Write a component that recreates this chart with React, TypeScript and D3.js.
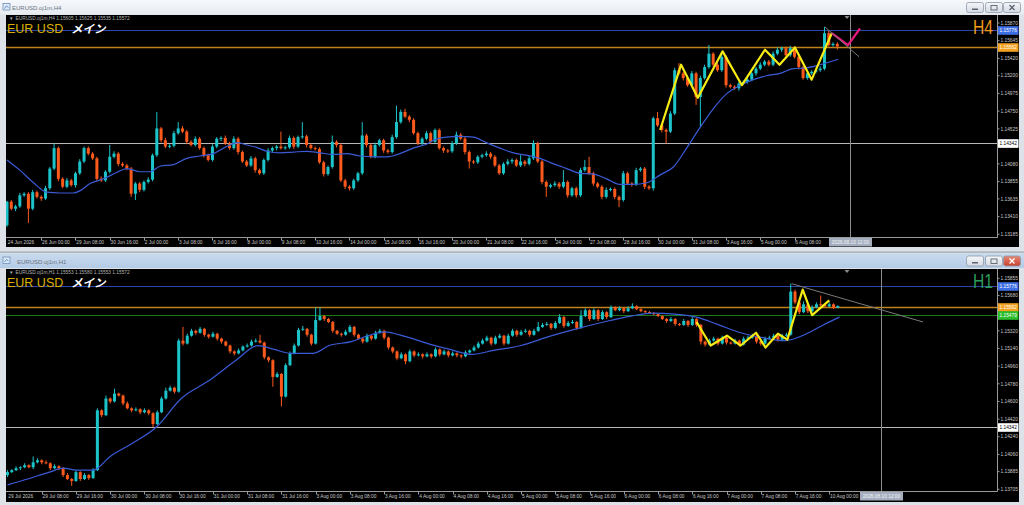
import { useRef, useEffect } from 'react';
import * as d3 from 'd3';

// ---------- H4 pane (top) ----------
const h4FirstOpen = 1.133;
const h4Close = [
  1.1360, 1.1351, 1.1354, 1.1368, 1.1370, 1.1351, 1.1372, 1.1366, 1.1364, 1.1377,
  1.1402, 1.1428, 1.1389, 1.1379, 1.1387, 1.1381, 1.1396, 1.1411, 1.1428, 1.1421,
  1.1415, 1.1389, 1.1387, 1.1398, 1.1417, 1.1421, 1.1408, 1.1406, 1.1402, 1.1370,
  1.1383, 1.1375, 1.1385, 1.1388, 1.1419, 1.1453, 1.1438, 1.1430, 1.1431, 1.1447,
  1.1453, 1.1449, 1.1436, 1.1432, 1.1440, 1.1428, 1.1419, 1.1413, 1.1430, 1.1440,
  1.1441, 1.1434, 1.1428, 1.1440, 1.1423, 1.1411, 1.1406, 1.1415, 1.1400, 1.1396,
  1.1413, 1.1425, 1.1428, 1.1430, 1.1428, 1.1429, 1.1441, 1.1430, 1.1442, 1.1443,
  1.1432, 1.1428, 1.1427, 1.1410, 1.1395, 1.1404, 1.1436, 1.1432, 1.1387, 1.1379,
  1.1377, 1.1387, 1.1396, 1.1444, 1.1432, 1.1417, 1.1432, 1.1438, 1.1425, 1.1423,
  1.1442, 1.1461, 1.1474, 1.1468, 1.1464, 1.1447, 1.1434, 1.1440, 1.1447, 1.1436,
  1.1451, 1.1428, 1.1425, 1.1424, 1.1434, 1.1445, 1.1440, 1.1423, 1.1411, 1.1410,
  1.1417, 1.1419, 1.1421, 1.1417, 1.1406, 1.1396, 1.1408, 1.1411, 1.1413, 1.1406,
  1.1411, 1.1408, 1.1415, 1.1434, 1.1411, 1.1385, 1.1379, 1.1381, 1.1383, 1.1379,
  1.1385, 1.1368, 1.1377, 1.1368, 1.1400, 1.1404, 1.1396, 1.1383, 1.1379, 1.1366,
  1.1375, 1.1376, 1.1366, 1.1362, 1.1396, 1.1383, 1.1382, 1.1400, 1.1402, 1.1379,
  1.1377, 1.1466, 1.1457, 1.1451, 1.1449, 1.1472, 1.1527, 1.1523, 1.1517, 1.1508,
  1.1523, 1.1493, 1.1517, 1.1531, 1.1548, 1.1534, 1.1527, 1.1544, 1.1508, 1.1506,
  1.1504, 1.1510, 1.1512, 1.1515, 1.1523, 1.1529, 1.1534, 1.1538, 1.1534, 1.1548,
  1.1553, 1.1555, 1.1546, 1.1555, 1.1544, 1.1531, 1.1517, 1.1523, 1.1525, 1.1527,
  1.1529, 1.1574, 1.1559, 1.15605, 1.15572,
];
// wick lengths in pips above / below the body
const h4WickUp = [
  1, 2, 2, 3, 2, 2, 3, 2, 2, 3,
  2, 6, 2, 2, 3, 2, 2, 3, 2, 2,
  2, 2, 3, 2, 15, 3, 2, 2, 2, 2,
  2, 2, 2, 3, 2, 21, 2, 3, 2, 3,
  8, 3, 2, 2, 3, 2, 2, 2, 3, 2,
  2, 3, 2, 3, 2, 2, 2, 3, 2, 2,
  2, 3, 2, 2, 19, 2, 3, 2, 2, 18,
  2, 2, 2, 2, 2, 2, 8, 2, 2, 2,
  2, 2, 2, 17, 2, 2, 3, 2, 2, 2,
  3, 21, 3, 4, 2, 2, 2, 2, 3, 2,
  2, 2, 2, 2, 3, 4, 2, 2, 2, 2,
  2, 2, 3, 2, 2, 2, 2, 3, 2, 2,
  8, 2, 3, 4, 2, 2, 2, 2, 3, 2,
  15, 2, 2, 2, 3, 9, 13, 2, 2, 2,
  3, 2, 2, 2, 3, 2, 2, 3, 2, 2,
  2, 2, 8, 2, 2, 3, 3, 9, 2, 2,
  3, 2, 3, 3, 11, 2, 2, 4, 2, 2,
  2, 2, 2, 3, 2, 2, 3, 2, 2, 3,
  3, 2, 2, 3, 2, 2, 2, 2, 2, 2,
  3, 8, 3, 2, 2,
];
const h4WickDown = [
  2, 2, 3, 2, 2, 18, 2, 2, 3, 2,
  2, 2, 3, 2, 2, 2, 3, 2, 2, 2,
  2, 3, 2, 2, 2, 2, 3, 2, 2, 4,
  8, 3, 2, 2, 2, 2, 3, 2, 2, 2,
  2, 2, 3, 2, 2, 2, 3, 2, 2, 2,
  3, 2, 2, 2, 3, 2, 2, 2, 3, 2,
  2, 2, 2, 3, 2, 2, 2, 3, 2, 2,
  3, 2, 2, 2, 3, 2, 2, 3, 2, 3,
  3, 2, 2, 2, 3, 2, 2, 2, 3, 2,
  2, 2, 2, 2, 3, 2, 2, 2, 2, 3,
  2, 2, 3, 2, 2, 2, 2, 3, 9, 2,
  2, 2, 2, 3, 2, 2, 2, 2, 3, 2,
  2, 3, 2, 2, 2, 3, 13, 2, 2, 3,
  2, 3, 2, 3, 2, 2, 2, 3, 2, 3,
  2, 2, 3, 9, 2, 2, 3, 2, 2, 3,
  2, 3, 2, 3, 15, 2, 2, 2, 3, 2,
  2, 10, 38, 2, 2, 3, 2, 2, 3, 2,
  2, 3, 2, 2, 2, 3, 2, 2, 2, 2,
  2, 3, 2, 2, 2, 3, 2, 2, 2, 2,
  2, 2, 2, 2, 4,
];
const h4MaBar = [
  0, 3, 6.2, 9.3, 12.4, 15.5, 17.1, 19.4, 22.5, 25.6, 28, 31.1, 33.4, 35.7, 38.9, 42, 45.1, 48.2,
  51.3, 53.7, 56, 58.3, 60.7, 63.8, 66.9, 70, 73.1, 76.2, 79.4, 82.5, 85.6, 88.7, 91.8, 94.9,
  98.4, 99.6, 102.7, 105.8, 109, 112, 115.2, 118.3, 121.4, 124.5, 127.7, 130.8, 133.9, 137,
  140.1, 143.2, 146.3, 149.5, 152.6, 155.7, 158.8, 161.9, 165, 168.1, 171.3, 174.4, 177.5,
  180.6, 183.7, 186.8, 190, 194.2,
];
const h4MaValue = [
  1.1413, 1.14, 1.1384, 1.1372, 1.1371, 1.1371, 1.1374, 1.1383, 1.1389, 1.1397, 1.1402, 1.1398,
  1.1398, 1.1405, 1.1407, 1.1415, 1.1418, 1.1421, 1.143, 1.1435, 1.1432, 1.1429, 1.1424, 1.1422,
  1.1423, 1.1424, 1.1422, 1.142, 1.1421, 1.1418, 1.1417, 1.1417, 1.1421, 1.1428, 1.1434, 1.1438,
  1.1442, 1.1443, 1.1442, 1.1435, 1.1428, 1.1422, 1.1419, 1.1415, 1.1408, 1.1402, 1.1396, 1.1395,
  1.1389, 1.1382, 1.1382, 1.1384, 1.1394, 1.1404, 1.1428, 1.1454, 1.1478, 1.1497, 1.1508, 1.1515,
  1.152, 1.1523, 1.1529, 1.153, 1.1534, 1.1541,
];
const h4ZigzagBar = [152.6, 157.5, 161.4, 167.2, 171.7, 177.1, 180.5, 184.1, 188, 192.7];
const h4ZigzagValue = [1.1451, 1.1534, 1.1492, 1.1551, 1.1508, 1.1553, 1.1534, 1.1556, 1.1515, 1.1574];
const h4ForecastBar = [192.7, 196.5, 199.3];
const h4ForecastValue = [1.1574, 1.1559, 1.158];
const h4TrendBar = [191.1, 199.1];
const h4TrendValue = [1.1582, 1.1544];
const h4TimeLabels = [
  '24 Jun 2026', '26 Jun 00:00', '29 Jun 08:00', '30 Jun 16:00', '2 Jul 00:00', '3 Jul 08:00',
  '6 Jul 16:00', '8 Jul 00:00', '9 Jul 08:00', '10 Jul 16:00', '14 Jul 00:00', '15 Jul 08:00',
  '16 Jul 16:00', '20 Jul 00:00', '21 Jul 08:00', '22 Jul 16:00', '24 Jul 00:00', '27 Jul 08:00',
  '28 Jul 16:00', '30 Jul 00:00', '31 Jul 08:00', '3 Aug 16:00', '5 Aug 00:00', '6 Aug 08:00',
];
const h4PriceTicks = [
  1.1587, 1.15645, 1.1542, 1.152, 1.14975, 1.1475, 1.14525, 1.143, 1.1408, 1.13855, 1.13635,
  1.1341, 1.13185,
];
const h4Levels = [1.15776, 1.15562, 1.14342];
const h4LevelKinds = ['blue', 'orange', 'white'];

// ---------- H1 pane (bottom) ----------
const h1FirstOpen = 1.1385;
const h1Close = [
  1.1388, 1.1390, 1.1392, 1.1393, 1.1395, 1.1393, 1.1398, 1.1400, 1.1398, 1.1397,
  1.1392, 1.1394, 1.1392, 1.1385, 1.1381, 1.1379, 1.1388, 1.1381, 1.1385, 1.1382,
  1.1390, 1.1451, 1.1446, 1.1463, 1.1460, 1.1468, 1.1466, 1.1458, 1.1453, 1.1451,
  1.1452, 1.1449, 1.1451, 1.1448, 1.1437, 1.1449, 1.1463, 1.1471, 1.1474, 1.1470,
  1.1522, 1.1519, 1.1527, 1.1532, 1.1530, 1.1534, 1.1528, 1.1526, 1.1529, 1.1524,
  1.1521, 1.1517, 1.1511, 1.1509, 1.1512, 1.1516, 1.1517, 1.1521, 1.1522, 1.1520,
  1.1505, 1.1502, 1.1485, 1.1488, 1.1465, 1.1497, 1.1509, 1.1517, 1.1533, 1.1534,
  1.1528, 1.1519, 1.1543, 1.1547, 1.1544, 1.1541, 1.1532, 1.1529, 1.1528, 1.1531,
  1.1536, 1.1528, 1.1524, 1.1521, 1.1527, 1.1524, 1.1530, 1.1532, 1.1525, 1.1515,
  1.1511, 1.1504, 1.1508, 1.1501, 1.1511, 1.1507, 1.1508, 1.1506, 1.1508, 1.1506,
  1.1513, 1.1508, 1.1511, 1.1507, 1.1509, 1.1507, 1.1506, 1.1510, 1.1512, 1.1515,
  1.1519, 1.1522, 1.1525, 1.1519, 1.1525, 1.1527, 1.1519, 1.1527, 1.1532, 1.1528,
  1.1531, 1.1532, 1.1528, 1.1532, 1.1536, 1.1538, 1.1539, 1.1535, 1.1540, 1.1546,
  1.1537, 1.1540, 1.1541, 1.1535, 1.1547, 1.1553, 1.1544, 1.1553, 1.1544, 1.1551,
  1.1546, 1.1556, 1.1553, 1.1555, 1.1552, 1.1555, 1.1557, 1.1554, 1.1552, 1.1551,
  1.1550, 1.1549, 1.1547, 1.1544, 1.1542, 1.1544, 1.1539, 1.1538, 1.1542, 1.1538,
  1.1544, 1.1538, 1.1521, 1.1518, 1.1522, 1.1524, 1.1519, 1.1525, 1.1520, 1.1519,
  1.1522, 1.1518, 1.1524, 1.1525, 1.1527, 1.1521, 1.1519, 1.1524, 1.1525, 1.1527,
  1.1523, 1.1527, 1.1528, 1.1572, 1.1561, 1.1551, 1.1559, 1.1552, 1.1556, 1.1559,
  1.1558, 1.1557, 1.1559, 1.15553, 1.15572,
];
const h1WickUp = [
  2, 1, 2, 1, 2, 1, 6, 2, 1, 2,
  1, 2, 1, 1, 2, 1, 2, 1, 2, 1,
  2, 2, 1, 3, 1, 5, 1, 1, 2, 1,
  2, 1, 2, 1, 1, 2, 2, 3, 2, 1,
  2, 14, 2, 2, 1, 2, 1, 1, 2, 1,
  1, 1, 1, 1, 2, 1, 2, 2, 2, 6,
  1, 1, 1, 2, 1, 2, 2, 2, 2, 3,
  1, 1, 13, 9, 1, 1, 1, 1, 1, 2,
  2, 1, 1, 1, 2, 1, 2, 2, 1, 1,
  1, 1, 2, 1, 2, 1, 2, 1, 2, 1,
  2, 1, 2, 1, 2, 1, 1, 2, 1, 2,
  2, 2, 2, 1, 2, 2, 1, 2, 2, 1,
  2, 2, 1, 2, 5, 2, 2, 1, 2, 3,
  1, 2, 2, 1, 6, 2, 1, 2, 1, 2,
  1, 2, 1, 2, 1, 2, 3, 1, 1, 1,
  1, 1, 1, 1, 1, 2, 1, 1, 2, 1,
  2, 1, 1, 1, 2, 2, 1, 2, 1, 1,
  2, 1, 2, 2, 2, 1, 1, 2, 2, 2,
  1, 2, 2, 8, 2, 1, 3, 1, 2, 2,
  9, 1, 2, 1, 0.8,
];
const h1WickDown = [
  2, 1, 1, 2, 1, 1, 2, 1, 2, 1,
  2, 1, 2, 2, 1, 5, 1, 2, 1, 2,
  1, 1, 2, 1, 2, 1, 1, 2, 1, 2,
  1, 2, 1, 2, 3, 1, 1, 1, 1, 2,
  1, 2, 1, 1, 2, 1, 2, 2, 1, 2,
  2, 1, 2, 2, 1, 1, 1, 1, 1, 1,
  2, 2, 10, 1, 10, 1, 1, 1, 1, 1,
  2, 2, 1, 1, 2, 1, 2, 1, 2, 1,
  1, 2, 1, 2, 1, 2, 1, 1, 2, 2,
  2, 2, 1, 3, 1, 2, 1, 2, 1, 2,
  1, 2, 1, 2, 1, 2, 2, 1, 1, 1,
  1, 1, 1, 2, 1, 1, 2, 1, 1, 2,
  1, 1, 2, 1, 1, 1, 1, 2, 1, 1,
  2, 1, 1, 2, 1, 1, 2, 1, 2, 1,
  2, 1, 1, 1, 2, 1, 1, 1, 1, 1,
  1, 1, 1, 1, 2, 1, 2, 1, 1, 2,
  1, 2, 3, 2, 1, 1, 2, 1, 2, 1,
  1, 2, 1, 1, 1, 2, 2, 1, 1, 1,
  2, 1, 1, 1, 2, 2, 1, 2, 1, 1,
  1, 1, 1, 1, 0,
];
const h1MaBar = [
  0, 4.7, 9.8, 13, 16.2, 20, 24, 29, 34.8, 40.6, 47, 53.4, 58.5, 62.3, 66.2, 71.3, 75.2, 80.3,
  84.2, 88, 93.1, 98.2, 103.4, 108.5, 113.6, 120, 126.4, 132.9, 139.3, 145.7, 150.8, 155.9, 161,
  166.2, 171.3, 176.4, 181.6, 186.7, 190.6, 194.4,
];
const h1MaValue = [
  1.1375, 1.1381, 1.1388, 1.1392, 1.139, 1.139, 1.1404, 1.1417, 1.1434, 1.1463, 1.1481, 1.1502,
  1.1517, 1.1513, 1.1509, 1.1509, 1.1517, 1.1521, 1.1527, 1.1531, 1.1526, 1.1519, 1.1513, 1.1508,
  1.1512, 1.1517, 1.1526, 1.1534, 1.1541, 1.1547, 1.155, 1.1549, 1.1546, 1.1538, 1.153, 1.1525,
  1.1522, 1.1529, 1.1538, 1.1546,
];
const h1ZigzagBar = [161, 164.3, 168.1, 171.3, 174.9, 177.1, 180, 182.2, 185.8, 188, 192];
const h1ZigzagValue = [1.1541, 1.1517, 1.1527, 1.1517, 1.153, 1.1515, 1.1529, 1.1523, 1.1574, 1.1548, 1.1563];
const h1TrendBar = [183.2, 213.9];
const h1TrendValue = [1.158, 1.1541];
const h1TimeLabels = [
  '29 Jul 2026', '29 Jul 08:00', '29 Jul 16:00', '30 Jul 00:00', '30 Jul 08:00', '30 Jul 16:00',
  '31 Jul 00:00', '31 Jul 08:00', '31 Jul 16:00', '3 Aug 00:00', '3 Aug 08:00', '3 Aug 16:00',
  '4 Aug 00:00', '4 Aug 08:00', '4 Aug 16:00', '5 Aug 00:00', '5 Aug 08:00', '5 Aug 16:00',
  '6 Aug 00:00', '6 Aug 08:00', '6 Aug 16:00', '7 Aug 00:00', '7 Aug 08:00', '7 Aug 16:00',
  '10 Aug 00:00',
];
// 1.15500 sits under the green price box in the reference, so it is not listed
const h1PriceTicks = [
  1.15855, 1.1568, 1.1532, 1.1514, 1.1496, 1.1478, 1.146, 1.1442, 1.1424, 1.1406,
  1.13885, 1.13705,
];
const h1Levels = [1.15776, 1.15562, 1.15479, 1.14342];
const h1LevelKinds = ['blue', 'orange', 'green', 'white'];

const PIP = 0.0001;
const BAR_STEP = 4.28;
const UI_FONT = '"Liberation Sans", Arial, sans-serif';
const UP = '#1cc4c9';
const DOWN = '#fb5a1c';

const levelStyles: Record<string, { line: string; box: string; text: string }> = {
  blue: { line: '#2c46aa', box: '#3d6ee4', text: '#ffffff' },
  orange: { line: '#bf8419', box: '#f3a11f', text: '#ffffff' },
  green: { line: '#1c7a1c', box: '#2cbd2c', text: '#ffffff' },
  white: { line: '#b8b8b8', box: '#ffffff', text: '#000000' },
};

interface Pane {
  id: string;
  top: number;
  bottom: number;
  axisY: number;
  x0: number;
  yDomain: [number, number];
  yRange: [number, number];
  firstOpen: number;
  close: number[];
  wickUp: number[];
  wickDown: number[];
  maBar: number[];
  maValue: number[];
  zigzagBar: number[];
  zigzagValue: number[];
  forecastBar?: number[];
  forecastValue?: number[];
  trendBar: number[];
  trendValue: number[];
  timeLabels: string[];
  priceTicks: number[];
  levels: number[];
  levelKinds: string[];
  crossBar: number;
  header: string;
  tf: string;
  tfColor: string;
}

const panes: Pane[] = [
  {
    id: 'h4', top: 15, bottom: 247, axisY: 237.5, x0: 7,
    yDomain: [1.13185, 1.1587], yRange: [234.3, 23],
    firstOpen: h4FirstOpen, close: h4Close, wickUp: h4WickUp, wickDown: h4WickDown,
    maBar: h4MaBar, maValue: h4MaValue, zigzagBar: h4ZigzagBar, zigzagValue: h4ZigzagValue,
    forecastBar: h4ForecastBar, forecastValue: h4ForecastValue,
    trendBar: h4TrendBar, trendValue: h4TrendValue,
    timeLabels: h4TimeLabels, priceTicks: h4PriceTicks, levels: h4Levels, levelKinds: h4LevelKinds,
    crossBar: 197, header: 'EURUSD.oj1m,H4  1.15605 1.15625 1.15535 1.15572', tf: 'H4', tfColor: '#f39a1c',
  },
  {
    id: 'h1', top: 269, bottom: 502, axisY: 491.5, x0: 7.5,
    yDomain: [1.13705, 1.15855], yRange: [489.3, 278.3],
    firstOpen: h1FirstOpen, close: h1Close, wickUp: h1WickUp, wickDown: h1WickDown,
    maBar: h1MaBar, maValue: h1MaValue, zigzagBar: h1ZigzagBar, zigzagValue: h1ZigzagValue,
    trendBar: h1TrendBar, trendValue: h1TrendValue,
    timeLabels: h1TimeLabels, priceTicks: h1PriceTicks, levels: h1Levels, levelKinds: h1LevelKinds,
    crossBar: 204, header: 'EURUSD.oj1m,H1  1.15553 1.15580 1.15553 1.15572', tf: 'H1', tfColor: '#2c9c5c',
  },
];

type Sel = d3.Selection<SVGGElement, unknown, null, undefined>;

const drawPane = (root: Sel, p: Pane) => {
  const g = root.append('g');
  const x = d3.scaleLinear().domain([0, 194]).range([p.x0, p.x0 + 194 * BAR_STEP]);
  const y = d3.scaleLinear().domain(p.yDomain).range(p.yRange);

  g.append('rect')
    .attr('x', 6).attr('y', p.top)
    .attr('width', 1013).attr('height', p.bottom - p.top)
    .attr('fill', '#000');

  g.append('clipPath').attr('id', `clip-${p.id}`)
    .append('rect')
    .attr('x', 6).attr('y', p.top)
    .attr('width', 991).attr('height', p.axisY - p.top);

  const plot = g.append('g').attr('clip-path', `url(#clip-${p.id})`);

  // horizontal level lines
  p.levels.forEach((lv, i) => {
    plot.append('line')
      .attr('x1', 6).attr('x2', 997)
      .attr('y1', Math.round(y(lv)) + 0.5).attr('y2', Math.round(y(lv)) + 0.5)
      .attr('stroke', levelStyles[p.levelKinds[i]].line)
      .attr('stroke-width', p.levelKinds[i] === 'orange' ? 1.3 : 1);
  });

  // vertical crosshair
  const cx = Math.round(x(p.crossBar)) + 0.5;
  plot.append('line')
    .attr('x1', cx).attr('x2', cx)
    .attr('y1', p.top).attr('y2', p.axisY)
    .attr('stroke', '#8c8c8c');

  // shift marker
  g.append('path')
    .attr('d', `M844.5,${p.top + 1}L849.5,${p.top + 1}L847,${p.top + 4}Z`)
    .attr('fill', '#8a8a8a');

  // candles
  const bars = p.close.map((c, i) => {
    const o = i === 0 ? p.firstOpen : p.close[i - 1];
    return {
      i, o, c,
      h: Math.max(o, c) + p.wickUp[i] * PIP,
      l: Math.min(o, c) - p.wickDown[i] * PIP,
    };
  });

  const candles = plot.append('g')
    .selectAll('g')
    .data(bars)
    .enter()
    .append('g')
    .attr('fill', (d) => (d.c >= d.o ? UP : DOWN))
    .attr('stroke', (d) => (d.c >= d.o ? UP : DOWN));

  candles.append('line')
    .attr('x1', (d) => x(d.i)).attr('x2', (d) => x(d.i))
    .attr('y1', (d) => y(d.h)).attr('y2', (d) => y(d.l))
    .attr('stroke-width', 1);

  candles.append('rect')
    .attr('x', (d) => x(d.i) - 1.5)
    .attr('y', (d) => y(Math.max(d.o, d.c)))
    .attr('width', 3)
    .attr('height', (d) => Math.max(1, y(Math.min(d.o, d.c)) - y(Math.max(d.o, d.c))))
    .attr('stroke', 'none');

  // moving average
  const ma = d3.line<number>()
    .x((_, i) => x(p.maBar[i]))
    .y((d) => y(d))
    .curve(d3.curveMonotoneX);
  plot.append('path')
    .attr('d', ma(p.maValue))
    .attr('fill', 'none').attr('stroke', '#3b5bd6').attr('stroke-width', 1.2);

  // zigzag
  const zz = d3.line<number>().x((_, i) => x(p.zigzagBar[i])).y((d) => y(d));
  plot.append('path')
    .attr('d', zz(p.zigzagValue))
    .attr('fill', 'none').attr('stroke', '#f6ec14').attr('stroke-width', 2.2)
    .attr('stroke-linejoin', 'round');

  if (p.forecastBar && p.forecastValue) {
    const fc = d3.line<number>().x((_, i) => x(p.forecastBar![i])).y((d) => y(d));
    plot.append('path')
      .attr('d', fc(p.forecastValue))
      .attr('fill', 'none').attr('stroke', '#e8197d').attr('stroke-width', 2.2)
      .attr('stroke-linejoin', 'round');
  }

  plot.append('line')
    .attr('x1', x(p.trendBar[0])).attr('y1', y(p.trendValue[0]))
    .attr('x2', x(p.trendBar[1])).attr('y2', y(p.trendValue[1]))
    .attr('stroke', '#7a7a7a').attr('stroke-width', 1);

  // axes
  g.append('line')
    .attr('x1', 6).attr('x2', 997.5)
    .attr('y1', p.axisY).attr('y2', p.axisY)
    .attr('stroke', '#9a9a9a');
  g.append('line')
    .attr('x1', 997.5).attr('x2', 997.5)
    .attr('y1', p.top).attr('y2', p.axisY)
    .attr('stroke', '#9a9a9a');

  // price labels
  const priceAxis = g.append('g')
    .style('font-family', UI_FONT).style('font-size', '4.8px').attr('fill', '#c8c8c8');
  p.priceTicks.forEach((v) => {
    priceAxis.append('line')
      .attr('x1', 997.5).attr('x2', 999.5)
      .attr('y1', y(v)).attr('y2', y(v))
      .attr('stroke', '#9a9a9a');
    priceAxis.append('text').attr('x', 1000.5).attr('y', y(v) + 1.7).text(v.toFixed(5));
  });

  // level price boxes
  p.levels.forEach((lv, i) => {
    const st = levelStyles[p.levelKinds[i]];
    const yy = Math.round(y(lv)) + 0.5;
    g.append('rect')
      .attr('x', 998).attr('y', yy - 4.3)
      .attr('width', 20.5).attr('height', 8.6)
      .attr('fill', st.box);
    g.append('text')
      .attr('x', 999.5).attr('y', yy + 1.7)
      .style('font-family', UI_FONT).style('font-size', '4.8px')
      .attr('fill', st.text)
      .text(lv.toFixed(5));
  });

  // time labels
  const timeAxis = g.append('g')
    .style('font-family', UI_FONT).style('font-size', '4.8px').attr('fill', '#c8c8c8');
  p.timeLabels.forEach((t, i) => {
    const tx = x(i * 8);
    if (i > 0) {
      timeAxis.append('line')
        .attr('x1', Math.round(tx) + 0.5).attr('x2', Math.round(tx) + 0.5)
        .attr('y1', p.axisY).attr('y2', p.axisY + 3)
        .attr('stroke', '#9a9a9a');
    }
    timeAxis.append('text').attr('x', tx + 0.8).attr('y', p.axisY + 6.3).text(t);
  });

  // crosshair time box
  g.append('rect')
    .attr('x', cx - 21.5).attr('y', p.axisY + 0.5)
    .attr('width', 43).attr('height', 8.5)
    .attr('fill', '#a4aebe');
  g.append('text')
    .attr('x', cx).attr('y', p.axisY + 6.3)
    .attr('text-anchor', 'middle')
    .style('font-family', UI_FONT).style('font-size', '4.8px')
    .attr('fill', '#f4f6fa')
    .text('2026.08.10 12:00');

  // header line
  g.append('text')
    .attr('x', 9).attr('y', p.top + 5.4)
    .style('font-family', UI_FONT).style('font-size', '4.5px')
    .attr('fill', '#b4b4b4')
    .text('▼');
  g.append('text')
    .attr('x', 15.5).attr('y', p.top + 5.4)
    .style('font-family', UI_FONT).style('font-size', '4.8px')
    .attr('fill', '#b4b4b4')
    .text(p.header);

  g.append('text')
    .attr('x', 7).attr('y', p.top + 18)
    .style('font-family', UI_FONT).style('font-size', '12.5px')
    .attr('fill', '#dcb000')
    .text('EUR USD');
  g.append('text')
    .attr('x', 71).attr('y', p.top + 17.5)
    .style('font-family', '"Noto Sans CJK JP", sans-serif').style('font-size', '11.5px')
    .style('font-weight', '700').style('font-style', 'italic')
    .attr('fill', '#ffffff')
    .text('メイン');

  g.append('text')
    .attr('x', 973).attr('y', p.top + 18.5)
    .attr('textLength', 20).attr('lengthAdjust', 'spacingAndGlyphs')
    .style('font-family', UI_FONT).style('font-size', '20px')
    .attr('fill', p.tfColor)
    .text(p.tf);
};

const drawWindowBar = (root: Sel, top: number, title: string, active: boolean) => {
  const g = root.append('g');
  g.append('rect')
    .attr('x', 0).attr('y', top).attr('width', 1024).attr('height', 14.5)
    .attr('fill', active ? 'url(#barActive)' : 'url(#barIdle)');
  // icon
  g.append('rect').attr('x', 3).attr('y', top + 3.5).attr('width', 7).attr('height', 6.5)
    .attr('fill', '#dfe9f5').attr('stroke', '#6d8fba').attr('stroke-width', 0.8);
  g.append('path').attr('d', `M4.5,${top + 8.5}L6.5,${top + 6}L8.5,${top + 7.5}`)
    .attr('fill', 'none').attr('stroke', '#3f78c0').attr('stroke-width', 0.8);
  g.append('text')
    .attr('x', active ? 17 : 12).attr('y', top + 10)
    .style('font-family', UI_FONT).style('font-size', '6px')
    .attr('fill', '#6a7380')
    .text(title);

  const bx = [966, 985, 1003];
  bx.forEach((x0, k) => {
    const isClose = k === 2;
    g.append('rect')
      .attr('x', x0 + 0.5).attr('y', top + 2.5)
      .attr('width', 17).attr('height', 10).attr('rx', 2)
      .attr('fill', isClose && active ? 'url(#btnClose)' : 'url(#btnIdle)')
      .attr('stroke', '#8d98a8').attr('stroke-width', 0.8);
    const mx = x0 + 9;
    const my = top + 7.5;
    const ink = isClose && active ? '#ffffff' : '#5b6470';
    if (k === 0) {
      g.append('rect').attr('x', mx - 3).attr('y', my + 1).attr('width', 6).attr('height', 1.5).attr('fill', ink);
    } else if (k === 1) {
      g.append('rect').attr('x', mx - 3).attr('y', my - 2).attr('width', 6).attr('height', 4.5)
        .attr('fill', 'none').attr('stroke', ink).attr('stroke-width', 0.9);
    } else {
      g.append('path').attr('d', `M${mx - 2.5},${my - 2.5}L${mx + 2.5},${my + 2.5}M${mx + 2.5},${my - 2.5}L${mx - 2.5},${my + 2.5}`)
        .attr('stroke', ink).attr('stroke-width', 1.3);
    }
  });
};

const App = () => {
  const svgRef = useRef<SVGSVGElement>(null);

  useEffect(() => {
    if (!svgRef.current) return;
    const svg = d3.select(svgRef.current);
    svg.selectAll('*').remove();

    const defs = svg.append('defs');
    const grad = (id: string, a: string, b: string) => {
      const lg = defs.append('linearGradient').attr('id', id).attr('x1', 0).attr('y1', 0).attr('x2', 0).attr('y2', 1);
      lg.append('stop').attr('offset', '0%').attr('stop-color', a);
      lg.append('stop').attr('offset', '100%').attr('stop-color', b);
    };
    grad('barIdle', '#f6f8fb', '#e6ebf1');
    grad('barActive', '#c9daee', '#b4cbe6');
    grad('btnIdle', '#f4f6f9', '#d5dbe3');
    grad('btnClose', '#e58a78', '#c9402c');

    const root = svg.append('g') as unknown as Sel;

    // window frames
    root.append('rect').attr('x', 0).attr('y', 0).attr('width', 1024).attr('height', 505).attr('fill', '#dde2e8');
    root.append('rect').attr('x', 0).attr('y', 251.5).attr('width', 1024).attr('height', 1.2).attr('fill', '#9aa3ae');

    drawWindowBar(root, 0, 'EURUSD.oj1m,H4', false);
    drawWindowBar(root, 253.5, 'EURUSD.oj1m,H1', true);

    panes.forEach((p) => drawPane(root, p));
  }, []);

  return (
    <svg
      ref={svgRef}
      width={1024}
      height={505}
      style={{ position: 'absolute', left: 0, top: 0, display: 'block' }}
    ></svg>
  );
};

export default App;
